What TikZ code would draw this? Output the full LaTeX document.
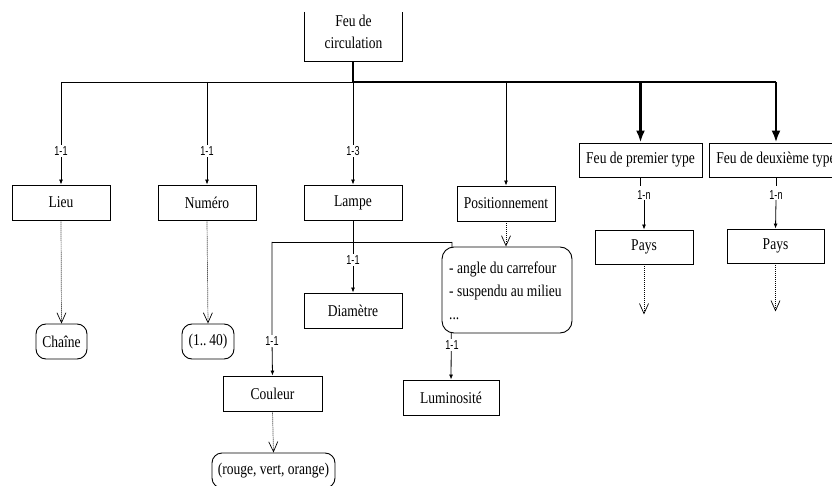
\documentclass[tikz,border=0pt]{standalone}
\usepackage{fontspec}
\setmainfont{Liberation Serif}[FakeStretch=0.82]
\newfontfamily\lblfont{Liberation Sans}[FakeStretch=0.7]
\usetikzlibrary{arrows.meta}
\begin{document}
\begin{tikzpicture}[x=1pt,y=-1pt,
  box/.style={draw,line width=0.9pt,minimum height=35pt,inner sep=0pt,
    font=\fontsize{16.5}{22}\selectfont},
  rbox/.style={box,rounded corners=10pt},
  lbl/.style={fill=white,inner sep=1.5pt,font=\fontsize{13}{14}\lblfont},
  conn/.style={line width=0.8pt},
  arr/.style={conn,-{Latex[length=5pt,width=4pt]}},
  thick conn/.style={line width=2.8pt},
  thick arr/.style={thick conn,-{Latex[length=12pt,width=9pt]}},
  dot arr/.style={line width=0.7pt,dash pattern=on 1pt off 1pt,
    -{Straight Barb[length=10pt,width=9pt,line width=0.7pt]}}]
\useasboundingbox (0,0) rectangle (832,486);
\clip (0,0) rectangle (832,486);
% top box (three sides)
\node[inner sep=0pt,minimum width=97pt,minimum height=49pt] (feu) at (353.5,36.5) {};
\node[align=center,inner sep=0pt,font=\fontsize{16.5}{22}\selectfont] (feutxt) at (353.5,32) {Feu de\\circulation};
\draw[line width=0.9pt] (feu.north west) -- (feu.south west) -- (feu.south east) -- (feu.north east);
% first row
\node[box,minimum width=98pt] (lieu) at (61,202.5) {Lieu};
\node[box,minimum width=98pt] (num) at (207,202.5) {Numéro};
\node[box,minimum width=98pt] (lampe) at (353,202.5) {Lampe};
\node[box,minimum width=98pt] (posn) at (506,203.5) {Positionnement};
\node[box,minimum width=123pt,minimum height=34pt] (feu1) at (640.5,160) {Feu de premier type};
\node[box,minimum width=134pt,minimum height=34pt] (feu2) at (776,160) {Feu de deuxième type};
% second level
\node[box,minimum width=98pt,minimum height=34pt] (pays1) at (644,247) {Pays};
\node[box,minimum width=97pt,minimum height=34pt] (pays2) at (775.5,246) {Pays};
\node[rbox,minimum width=51pt] (chaine) at (61.5,341.5) {Chaîne};
\node[rbox,minimum width=52pt] (plage) at (208,341.5) {(1..\,40)};
\node[box,minimum width=98pt] (diam) at (353,310.5) {Diamètre};
\node[box,minimum width=99pt] (coul) at (272.5,393.5) {Couleur};
\node[rbox,minimum width=123pt] (rvo) at (273.5,470.5) {(rouge, vert, orange)};
\node[box,minimum width=96pt] (lum) at (451,397.5) {Luminosité};
% junction coordinates
\coordinate (j) at (353,82);
\coordinate (jl) at (61,82);
\coordinate (jn) at (207,82);
\coordinate (jp) at (506,82);
\coordinate (j1) at (640.5,82);
\coordinate (j2) at (776,82);
\coordinate (k) at (353,242);
\coordinate (kl) at (272,242);
\coordinate (kr) at (452,242);
% labels
\node[lbl] (l1) at (61,151) {1-1};
\node[lbl] (l2) at (207,151) {1-1};
\node[lbl] (l3) at (353,151) {1-3};
\node[lbl] (n1) at (644,195) {1-n};
\node[lbl] (n2) at (776,195) {1-n};
% main connectors
\draw[conn] (jl) -- (j);
\draw[thick conn] (feu.south -| j) -- (j) -- (j2);
\draw[arr] (jl) -- (l1) -- (lieu.north);
\draw[arr] (jn) -- (l2) -- (num.north);
\draw[arr] (j) -- (l3) -- (lampe.north);
\draw[arr] (jp) -- (posn.north);
\draw[thick arr] (j1) -- (feu1.north);
\draw[thick arr] (j2) -- (feu2.north);
\node[lbl] at (l1) {1-1};
\node[lbl] at (l2) {1-1};
\node[lbl] at (l3) {1-3};
% Feu types to Pays
\draw[conn] (feu1.south) -- ++(0,9);
\draw[arr] (n1.south) ++(0,-1) -- (pays1.north);
\draw[conn] (feu2.south) -- ++(0,9);
\draw[arr] (n2.south) ++(0,-1) -- (pays2.north);
% Lampe sub-tree
\draw[conn] (lampe.south) -- (k);
\draw[conn] (kl) -- (kr);
\node[lbl] (l4) at (353,260) {1-1};
\draw[arr] (k) -- (l4) -- (diam.north);
\node[lbl] at (l4) {1-1};
\node[lbl] (l5) at (272,341) {1-1};
\draw[arr] (kl) -- (l5) -- (coul.north);
\node[lbl] at (l5) {1-1};
\draw[arr] (kr) -- (lum.north);
% rounded positions box drawn over the line
\node[box,fill=white,rounded corners=12pt,minimum width=130pt,minimum height=86pt,
  align=left,inner sep=0pt] (pos) at (507,290) {};
\node[anchor=west,inner sep=0pt,align=left,font=\fontsize{16.5}{23}\selectfont]
  (postxt) at (449,291) {- angle du carrefour\\- suspendu au milieu\\...};
\node[lbl] (l6) at (452,345) {1-1};
% dotted arrows
\draw[dot arr] (lieu.south) -- (chaine.north);
\draw[dot arr] (num.south) -- (plage.north);
\draw[dot arr] (coul.south) -- (rvo.north);
\draw[dot arr] (posn.south) -- (pos.north -| posn.south);
\draw[dot arr] (pays1.south) -- ++(0,50);
\draw[dot arr] (pays2.south) -- ++(0,48);
\end{tikzpicture}
\end{document}
